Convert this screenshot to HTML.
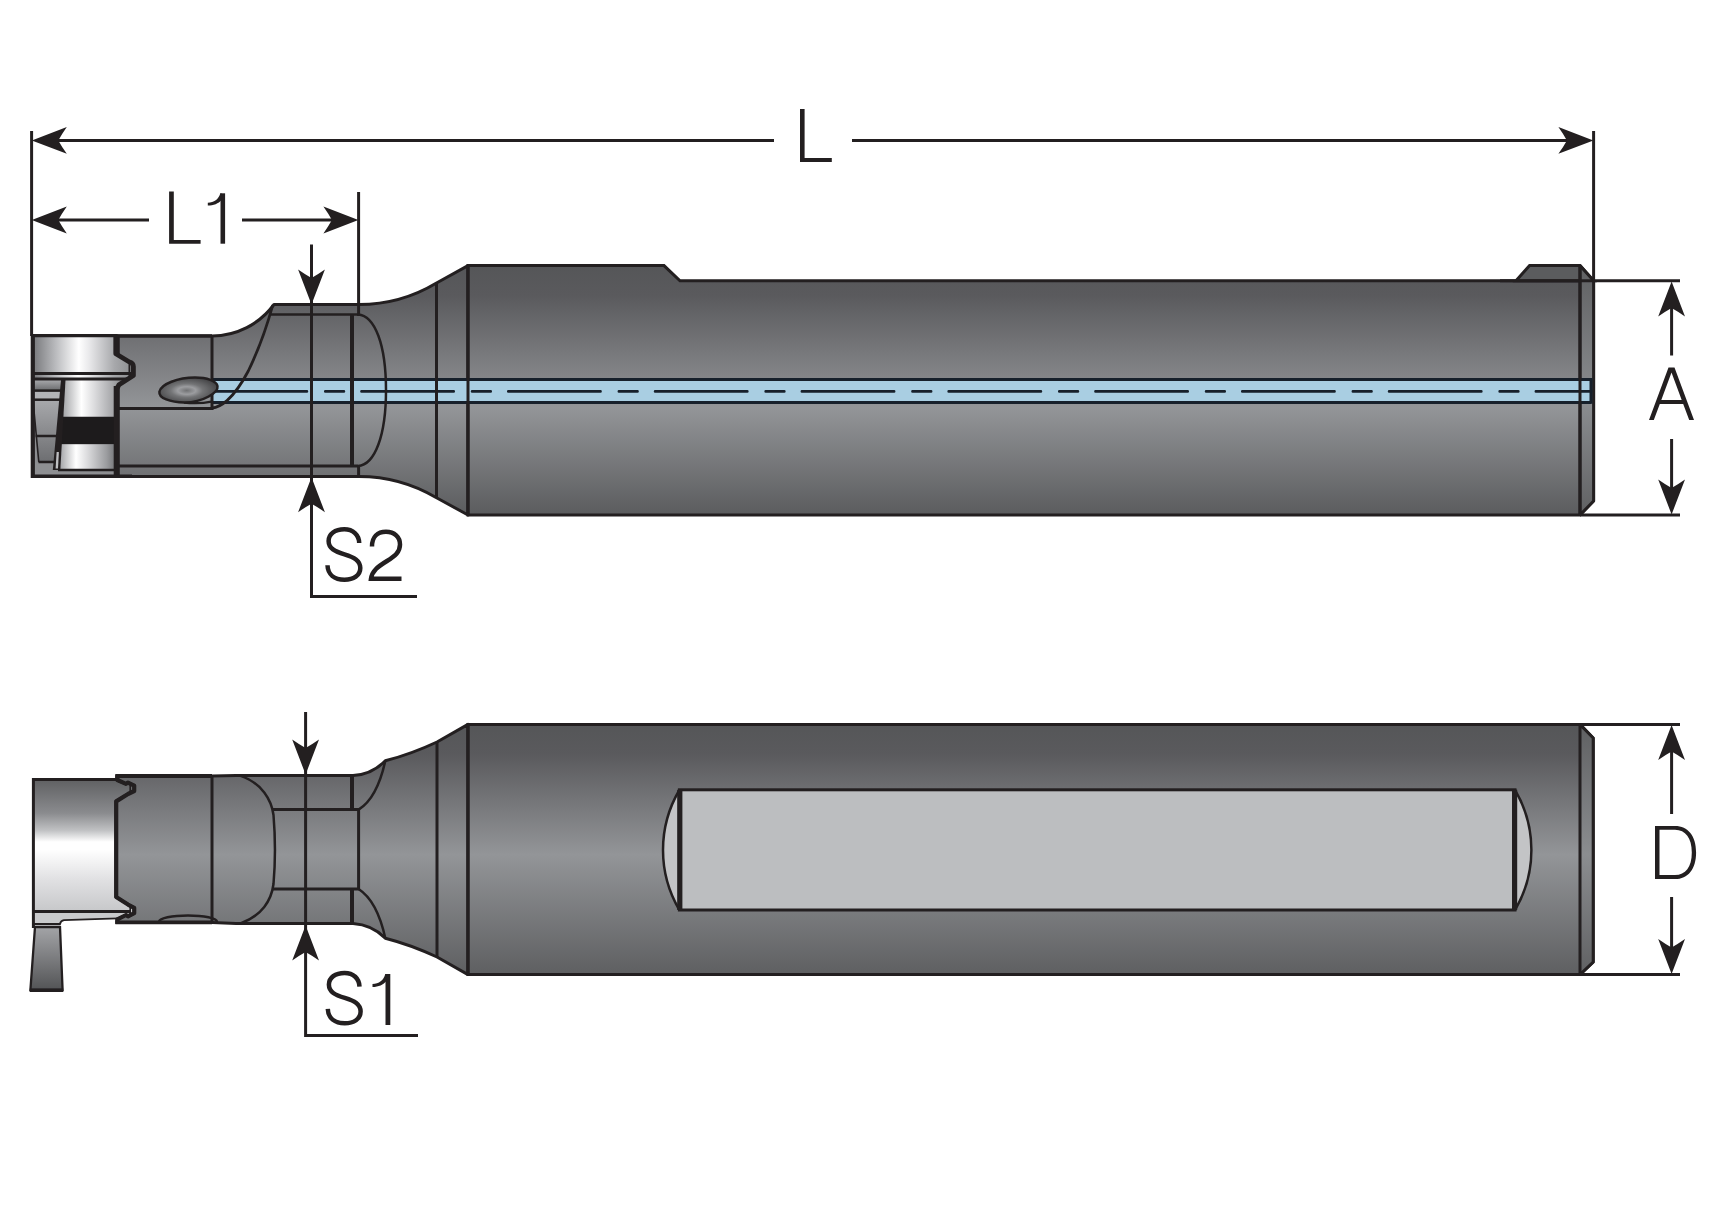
<!DOCTYPE html>
<html>
<head>
<meta charset="utf-8">
<title>Tool holder dimensions</title>
<style>
html,body{margin:0;padding:0;background:#ffffff;font-family:"Liberation Sans",sans-serif;}
svg{display:block;}
.ln{stroke:#231f20;stroke-width:3;stroke-linecap:butt;stroke-linejoin:miter;}
.lt{stroke:#231f20;stroke-width:2.5;}
.lk{stroke:#231f20;stroke-width:4;}
.nf{fill:none;}
.dim{stroke:#231f20;stroke-width:3;fill:none;}
.ar{fill:#231f20;stroke:none;}
.tx{stroke:#231f20;stroke-width:4.5;fill:none !important;stroke-linecap:butt;stroke-linejoin:miter;stroke-miterlimit:10;}
.ch{stroke:#17202b;stroke-width:3;fill:none;}
</style>
</head>
<body>
<svg width="1710" height="1222" viewBox="0 0 1710 1222">
<defs>
  <linearGradient id="gTop" gradientUnits="userSpaceOnUse" x1="0" y1="265" x2="0" y2="515">
    <stop offset="0" stop-color="#555658"/>
    <stop offset="0.12" stop-color="#5a5a5d"/>
    <stop offset="0.57" stop-color="#939598"/>
    <stop offset="1" stop-color="#5b5c5e"/>
  </linearGradient>
  <linearGradient id="gBot" gradientUnits="userSpaceOnUse" x1="0" y1="724" x2="0" y2="975">
    <stop offset="0" stop-color="#555658"/>
    <stop offset="0.12" stop-color="#5a5a5d"/>
    <stop offset="0.52" stop-color="#939598"/>
    <stop offset="1" stop-color="#5e5f61"/>
  </linearGradient>
  <linearGradient id="gChamT" gradientUnits="userSpaceOnUse" x1="0" y1="265" x2="0" y2="515">
    <stop offset="0" stop-color="#5f6062"/>
    <stop offset="0.55" stop-color="#8b8d90"/>
    <stop offset="1" stop-color="#606163"/>
  </linearGradient>
  <linearGradient id="gChamB" gradientUnits="userSpaceOnUse" x1="0" y1="724" x2="0" y2="975">
    <stop offset="0" stop-color="#5f6062"/>
    <stop offset="0.52" stop-color="#8b8d90"/>
    <stop offset="1" stop-color="#606163"/>
  </linearGradient>
  <radialGradient id="gHole" cx="0.47" cy="0.52" r="0.55">
    <stop offset="0" stop-color="#717274"/>
    <stop offset="0.28" stop-color="#9c9da0"/>
    <stop offset="0.5" stop-color="#737476"/>
    <stop offset="1" stop-color="#454547"/>
  </radialGradient>
  <linearGradient id="gChromeH" x1="0" y1="0" x2="1" y2="0">
    <stop offset="0" stop-color="#77787b"/>
    <stop offset="0.22" stop-color="#b9babd"/>
    <stop offset="0.45" stop-color="#ffffff"/>
    <stop offset="0.55" stop-color="#e9e9eb"/>
    <stop offset="0.8" stop-color="#a7a8ab"/>
    <stop offset="1" stop-color="#88898c"/>
  </linearGradient>
  <linearGradient id="gChromeH2" x1="0" y1="0" x2="1" y2="0">
    <stop offset="0" stop-color="#a0a1a4"/>
    <stop offset="0.3" stop-color="#ffffff"/>
    <stop offset="0.5" stop-color="#dcdcde"/>
    <stop offset="0.85" stop-color="#9b9c9f"/>
    <stop offset="1" stop-color="#77787b"/>
  </linearGradient>
  <linearGradient id="gChromeV" x1="0" y1="0" x2="0" y2="1">
    <stop offset="0" stop-color="#5f6062"/>
    <stop offset="0.256" stop-color="#8a8b8e"/>
    <stop offset="0.386" stop-color="#c0c1c3"/>
    <stop offset="0.473" stop-color="#ffffff"/>
    <stop offset="0.53" stop-color="#ffffff"/>
    <stop offset="0.76" stop-color="#e0e0e2"/>
    <stop offset="1" stop-color="#c6c7c9"/>
  </linearGradient>
  <linearGradient id="gTail" x1="0" y1="0" x2="0" y2="1">
    <stop offset="0" stop-color="#a3a4a7"/>
    <stop offset="1" stop-color="#535456"/>
  </linearGradient>
  <linearGradient id="gInsL" x1="0" y1="0" x2="0" y2="1">
    <stop offset="0" stop-color="#a7a8ab"/>
    <stop offset="1" stop-color="#6d6e71"/>
  </linearGradient>
  <path id="arw" d="M0,0 L35,-13.4 Q29.5,-5.5 26.5,0 Q29.5,5.5 35,13.4 Z"/>
</defs>
<rect x="0" y="0" width="1710" height="1222" fill="#ffffff"/>

<!-- ================= TOP VIEW ================= -->
<g id="topview">
  <!-- neck + holder body -->
  <path d="M118,336 L212,336 A77.5,77.5 0 0 0 274,304.5 L359,304.5 A150.4,150.4 0 0 0 436.5,283 L468,265.6 L468,515 L436.5,497.7 A151.6,151.6 0 0 0 359,476.4 L118,476.4 Z" fill="url(#gTop)" class="ln" style="stroke-linejoin:round"/>
  <!-- shank -->
  <path d="M468,265.6 L664,265.6 L680,280.8 L1593.6,280.8 L1593.6,501 L1580,515 L468,515 Z" fill="url(#gTop)" class="ln"/>
  <!-- bump -->
  <path d="M1516,280.8 L1529.6,265.6 L1580,265.6 L1593.6,280.8 Z" fill="#5b5c5e" class="ln"/>
  <!-- chamfer strip -->
  <path d="M1580,265.6 L1593.6,280.8 L1593.6,501 L1580,515 Z" fill="url(#gChamT)" class="ln" style="stroke-linejoin:bevel"/>
  <!-- line under bump -->
  <path d="M1500,280.8 H1594" class="ln nf"/>

  <!-- coolant channel -->
  <rect x="213" y="379.4" width="1378" height="23" fill="#a9cee2"/>
  <path d="M212,379.4 H1591 M212,402.4 H1591" class="ch"/>
  <path d="M1591,378 V403.8" class="ch"/>
  <!-- centre line -->
  <path d="M214.7,391.4 H1591" stroke="#17202b" stroke-width="2.7" fill="none" stroke-linecap="round" stroke-dasharray="92.2 18.4 18.6 17.6"/>

  <!-- internal lines of neck -->
  <path d="M271,314.4 H358 C375,315.5 386,345 386,390.2 C386,435 375,465 358,466" class="lt nf"/>
  <path d="M358,466 H118" class="ln nf"/>
  <path d="M352,314.4 V466" class="lk nf"/>
  <path d="M436.5,283 V497.7" class="ln nf"/>
  <path d="M358.6,466 V476.4" class="ln nf"/>
  <path d="M468,265.6 V515" class="ln nf"/>
  <path d="M1580,265.6 V515" class="ln nf"/>
  <!-- S-curve on fillet -->
  <path d="M272.8,305 C267,326 258.5,350 248.3,371 C242,383 235,393.5 227,400.6 C221.5,405.3 216.5,407.6 212,408" stroke="#231f20" stroke-width="2.8" fill="none"/>
  <!-- holder front step -->
  <path d="M212,336 V408.5 H118" class="ln nf"/>
  <path d="M118,336 V476.6" class="ln nf"/>
  <!-- thick top line of holder front -->
  <path d="M116,335.8 H212" stroke="#231f20" stroke-width="3.3" fill="none"/>
  <!-- coolant exit hole -->
  <path d="M184,402.6 Q199,404.2 211.5,401.6" stroke="#231f20" stroke-width="2.2" fill="none"/>
  <path d="M159.4,391.8 C161,384 178,377.6 195,377.6 C207,377.6 216.6,381 217.5,386.2 C218.4,392 204,402.4 184.5,402.4 C170,402.4 158.6,398 159.4,391.8 Z" fill="url(#gHole)" class="lt"/>

  <!-- insert (top view) -->
  <g id="insTop">
    <!-- base -->
    <path d="M32.4,335 H114 V353 L128.7,361.7 Q134.6,362.8 134.8,366 L135.2,374.8 L119.5,384 L117.5,388 V477 H32.4 Z" fill="#8c8d90"/>
    <!-- top chrome -->
    <path d="M33,336 H113.6 V353 L128.7,361.7 Q134.4,362.8 134.8,366 V373.5 H33 Z" fill="url(#gChromeH)"/>
    <!-- flange light band -->
    <path d="M33,374.5 H133 L127,378.5 H33 Z" fill="url(#gChromeH)"/>
    <!-- left lower part -->
    <rect x="33" y="380" width="29" height="10" fill="url(#gInsL)"/>
    <rect x="33" y="391.5" width="28" height="7.5" fill="#b3b4b7"/>
    <path d="M33,400.5 H60.6 L54,462 H38.8 Z" fill="url(#gInsL)"/>
    <path d="M33,463 H58 V475 H33 Z" fill="#8e8f92"/>
    <!-- right lower chrome -->
    <path d="M64.5,380 H126 L119.5,384.5 L114.5,389 V417 H62.3 Z" fill="url(#gChromeH2)"/>
    <path d="M62.3,416.7 H115 V444.4 H60.7 Z" fill="#1d1b1c"/>
    <path d="M60.7,444.2 H115 V469.5 H59.3 Z" fill="url(#gChromeH2)"/>
    <path d="M58,470.5 H116 V475 H58 Z" fill="#8e8f92"/>
    <!-- dark diagonal separator -->
    <path d="M61,380 L65.5,380 L60.3,470 L52.8,470 Z" fill="#231f20"/>
    <path d="M56.6,452 L58.9,452 L58,468.5 L55.6,468.5 Z" fill="#bfc0c2"/>
    <!-- lines -->
    <path d="M33,373.5 H131" class="ln nf"/>
    <path d="M33,378.9 H127.5" class="ln nf"/>
    <path d="M33,390.6 H62" class="lt nf"/>
    <path d="M33,399.7 H61" class="lt nf"/>
    <path d="M35.6,436 H57" class="lt nf"/>
    <path d="M38.5,462 H55" class="lt nf"/>
    <path d="M33,400.5 L38.8,462" stroke="#231f20" stroke-width="1.6" fill="none"/>
    <path d="M58,470 H116" class="lt nf"/>
    <!-- outline -->
    <path d="M115.8,334.2 V353.8 L129,361.8 Q133.3,363 133.4,366.5 V375.5 L119,384.8 L116.6,389" stroke="#231f20" stroke-width="4.8" fill="none" stroke-linejoin="round"/>
    <path d="M129.4,363.5 V377" stroke="#231f20" stroke-width="1.8" fill="none"/>
    <path d="M116.4,386 V477" stroke="#231f20" stroke-width="5.4" fill="none"/>
    <path d="M31,335.6 H117" stroke="#231f20" stroke-width="3.3" fill="none"/>
    <path d="M32.8,334 V478" stroke="#231f20" stroke-width="4.2" fill="none"/>
    <path d="M31.6,476.2 H132" stroke="#231f20" stroke-width="3.4" fill="none"/>
  </g>
</g>

<!-- ================= BOTTOM VIEW ================= -->
<g id="botview">
  <!-- insert (bottom view) -->
  <g id="insBot">
    <path d="M33,779 H137 V912 H33 Z" fill="url(#gChromeV)"/>
    <path d="M33,912 H131 V918 L64,920.3 Q61,921 60,924 H33 Z" fill="#c9cacc"/>
    <path d="M33,924 H60 V927.5 H33 Z" fill="#d9dadc"/>
    <path d="M35,927 L60,927 L62.6,990 L30.4,990 Z" fill="url(#gTail)" stroke="#231f20" stroke-width="2.3"/>
    <path d="M33,911.6 H131" class="ln nf"/>
    <path d="M33.5,924 H60 Q60.6,920.8 64,920.2 L118,918.4" stroke="#231f20" stroke-width="1.8" fill="none"/>
    <path d="M33,779.4 H118" class="ln nf"/>
    <path d="M33.4,778 V928" class="ln nf"/>
    <path d="M29.8,990.3 H63.2" stroke="#231f20" stroke-width="3.6" fill="none"/>
  </g>
  <!-- neck + holder body -->
  <path d="M117,776 L212,776 L236,775.6 L353,775.6 Q372,774.4 385.3,760.8 Q411,754.2 437,742 L468,724.4 L468,974.6 L437,957 Q411,944.8 385.3,938.2 Q372,924.8 353,923.6 L236,923.6 L212,922.5 L117,922.5 L117,919.4 L126,915 L128,916.4 L134.4,913.2 L134.4,907.8 L128,904.6 L116,897 L116,801.4 L128,794 L134.4,791 L134.4,785.6 L128,782.6 L126,783.8 L117,780 Z" fill="url(#gBot)" class="ln" style="stroke-linejoin:round"/>
  <!-- shank -->
  <path d="M468,724.4 L1580,724.4 L1593.2,738 L1593.2,962 L1580,974.6 L468,974.6 Z" fill="url(#gBot)" class="ln"/>
  <!-- chamfer strip -->
  <path d="M1580,724.4 L1593.2,738 L1593.2,962 L1580,974.6 Z" fill="url(#gChamB)" class="ln" style="stroke-linejoin:bevel"/>
  <path d="M437,742 V957" class="ln nf"/>
  <path d="M468,724.4 V974.6" class="ln nf"/>

  <!-- flat -->
  <path d="M679.4,790 A118,118 0 0 0 679.4,910 Z" fill="#c3c4c6" class="lt" style="stroke-linejoin:bevel"/>
  <path d="M1515,790 A118,118 0 0 1 1515,910 Z" fill="#c3c4c6" class="lt" style="stroke-linejoin:bevel"/>
  <rect x="679.4" y="789.8" width="835.6" height="120.2" fill="#bcbec0" class="ln"/>
  <path d="M679.8,789.8 V910" stroke="#231f20" stroke-width="5.2" fill="none"/>
  <path d="M1514.6,789.8 V910" stroke="#231f20" stroke-width="5.2" fill="none"/>

  <!-- neck internals -->
  <path d="M212,776 V922.5" class="ln nf"/>
  <path d="M240,775.6 C262,783 271.5,800 273.5,815 C275.4,838 275.4,862 273.5,884 C271.5,900 262,916 240,923.6" class="lt nf"/>
  <path d="M273,809.6 H358.6 V889 H273" class="ln nf"/>
  <path d="M352,775.6 V809.6 M352,889 V923.6" class="lk nf"/>
  <path d="M385.3,760.8 C380,785 371,802 358.6,809.6" class="lt nf"/>
  <path d="M385.3,938.2 C380,914 371,897 358.6,889" class="lt nf"/>
  <path d="M159,922 A29,6.6 0 0 1 217,922" class="lt nf"/>
  <!-- heavy profile between insert and holder -->
  <path d="M117.4,774.6 V780 L126,783.8 L128,782.6 L134.2,785.6 V791 L128,794 L116.2,801.4 V897 L128,904.6 L134.2,907.8 V913.2 L128,916.4 L126,915 L117.4,919.4 V924" stroke="#231f20" stroke-width="4.2" fill="none" stroke-linejoin="round"/>
  <path d="M130.2,784.6 V792.4 M130.2,906.6 V914.6" stroke="#231f20" stroke-width="1.6" fill="none"/>
  <path d="M115.4,776 H212 M115.4,922.4 H212" stroke="#231f20" stroke-width="3.8" fill="none"/>
</g>

<!-- ================= DIMENSIONS ================= -->
<g id="dims">
  <!-- L -->
  <path d="M31.6,131 V336" class="dim"/>
  <path d="M1593.6,131 V282" class="dim"/>
  <path d="M50,140.4 H774 M852,140.4 H1575" class="dim"/>
  <use href="#arw" class="ar" transform="translate(31.8,140.4)"/>
  <use href="#arw" class="ar" transform="translate(1593.4,140.4) scale(-1,1)"/>
  <!-- L1 -->
  <path d="M358.6,192 V316" class="dim"/>
  <path d="M50,220 H149 M242,220 H340" class="dim"/>
  <use href="#arw" class="ar" transform="translate(31.8,220)"/>
  <use href="#arw" class="ar" transform="translate(358.4,220) scale(-1,1)"/>
  <!-- S2 -->
  <path d="M311.5,244.5 V596.5 H417" class="dim" stroke-linejoin="miter"/>
  <use href="#arw" class="ar" transform="translate(311.5,304.6) rotate(-90)"/>
  <use href="#arw" class="ar" transform="translate(311.5,477.2) rotate(90)"/>
  <!-- A -->
  <path d="M1594,280.8 H1680 M1580,515 H1680" class="dim"/>
  <path d="M1671.6,300 V355.6 M1671.6,439 V497" class="dim"/>
  <use href="#arw" class="ar" transform="translate(1671.6,281.5) rotate(90)"/>
  <use href="#arw" class="ar" transform="translate(1671.6,514.5) rotate(-90)"/>
  <!-- S1 -->
  <path d="M305.6,712 V1035.6 H418" class="dim"/>
  <use href="#arw" class="ar" transform="translate(305.6,774.5) rotate(-90)"/>
  <use href="#arw" class="ar" transform="translate(305.6,925.5) rotate(90)"/>
  <!-- D -->
  <path d="M1580,724.4 H1680 M1580,974.6 H1680" class="dim"/>
  <path d="M1671.6,742 V814 M1671.6,897 V957" class="dim"/>
  <use href="#arw" class="ar" transform="translate(1671.6,725) rotate(90)"/>
  <use href="#arw" class="ar" transform="translate(1671.6,974) rotate(-90)"/>
</g>

<!-- ================= LABELS (drawn as light-weight strokes) ================= -->
<g id="labels" fill="#231f20">
  <!-- L (big) -->
  <path d="M800,109 H804.6 V158.1 H831.8 V162 H800 Z"/>
  <!-- L1 -->
  <path d="M169.1,191.5 H173.8 V239.9 H200.6 V243.7 H169.1 Z"/>
  <path d="M220.5,193.3 H225.1 V243.7 H220.5 Z"/>
  <path d="M207.8,202.8 C214,202.6 218.6,199.5 220.3,193.3 L221.5,193.3 L221.5,200 C218.5,203.6 213.5,205.6 207.8,205.6 Z"/>
  <!-- S2 -->
  <path d="M359.2,543 C359,535 353,529.3 344.3,529.3 C335,529.3 328.6,534 328.6,541 C328.6,548.5 335,551.5 344.5,554.3 C354,557.2 360.3,560.5 360.3,568 C360.3,575.5 353.5,579.7 344.5,579.7 C334.5,579.7 327.8,574.5 327.5,565.3" class="tx"/>
  <path d="M372,546.5 C372,537 377.5,531.8 386,531.8 C394.5,531.8 400,537 400,544.5 C400,552 395,556 387,561 C378,566.5 372,571 371,578.8 H401.5" class="tx"/>
  <!-- S1 -->
  <g transform="translate(0.3,443.6)">
  <path d="M359.2,543 C359,535 353,529.3 344.3,529.3 C335,529.3 328.6,534 328.6,541 C328.6,548.5 335,551.5 344.5,554.3 C354,557.2 360.3,560.5 360.3,568 C360.3,575.5 353.5,579.7 344.5,579.7 C334.5,579.7 327.8,574.5 327.5,565.3" class="tx"/>
  </g>
  <path d="M385.5,974 H390.3 V1025 H385.5 Z"/>
  <path d="M372.5,984 C379,983.8 383.6,980.5 385.3,974 L386.5,974 L386.5,981 C383.5,984.8 378.5,987 372.5,987 Z"/>
  <!-- A -->
  <path d="M1649,420 L1668.5,367.6 L1674.5,367.6 L1694,420 L1689.2,420 L1683.2,403.9 L1659.8,403.9 L1653.8,420 Z M1661.3,399.9 L1681.7,399.9 L1671.5,372.4 Z" fill-rule="evenodd"/>
  <!-- D -->
  <path d="M1655,826 H1675 C1688,826 1696.1,836 1696.1,852.4 C1696.1,869 1688,879 1675,879 H1655 Z M1659.5,829.7 H1675 C1685.5,829.7 1691.8,838 1691.8,852.4 C1691.8,867 1685.5,875 1675,875 H1659.5 Z" fill-rule="evenodd"/>
</g>

</svg>
</body>
</html>
